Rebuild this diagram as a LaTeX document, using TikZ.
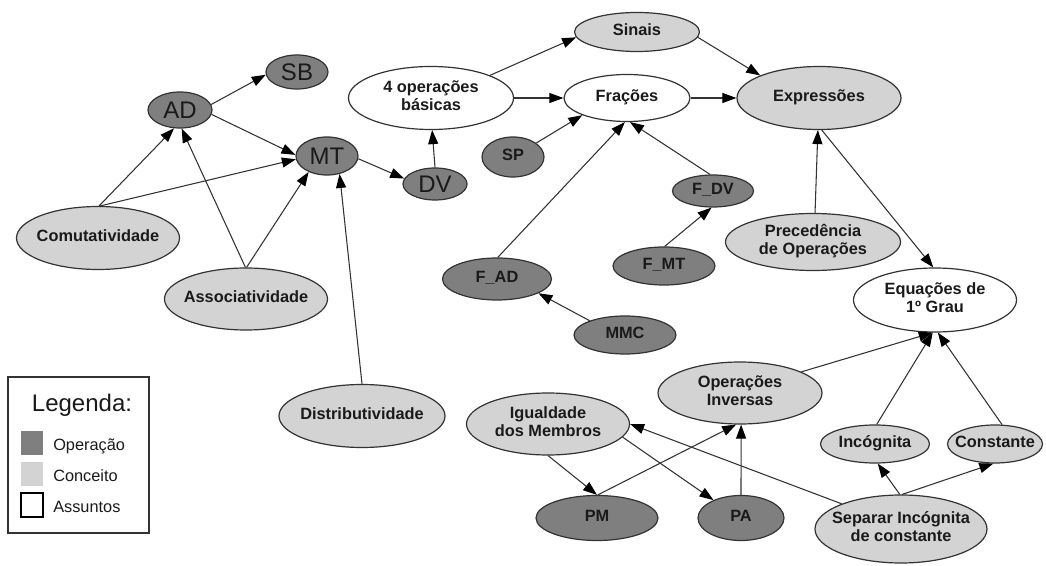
\documentclass[tikz,border=0pt]{standalone}
\usepackage{fontspec}
\setmainfont{Liberation Sans}
\usetikzlibrary{shapes.geometric,arrows.meta}

\definecolor{opfill}{HTML}{7F7F7F}
\definecolor{cofill}{HTML}{D3D3D3}
\definecolor{rim}{HTML}{333333}
\definecolor{ink}{HTML}{1A1A1A}

% centred text of zero width, so the ellipse keeps the size it is given
\newcommand\elltext[1]{\makebox[0pt]{\begin{tabular}{@{}c@{}}#1\end{tabular}}}

\tikzset{
  base/.style={ellipse, draw=rim, line width=0.9pt, inner sep=0pt, text=ink},
  sz/.style 2 args={minimum width=#1*0.75pt, minimum height=#2*0.75pt},
  oper/.style={base, fill=opfill, font=\fontsize{12.25}{13.5}\selectfont\bfseries},
  opbig/.style={base, fill=opfill, font=\fontsize{18}{20}\selectfont},
  conc/.style={base, fill=cofill, font=\fontsize{12.25}{13.5}\selectfont\bfseries},
  subj/.style={base, fill=white, font=\fontsize{12.25}{13.5}\selectfont\bfseries},
  link/.style={draw=rim, line width=0.8pt,
    -{Triangle[length=10.5pt,width=7.5pt,color=black]}},
  swatch/.style={inner sep=0pt, minimum width=22*0.75pt, minimum height=24*0.75pt},
  legtext/.style={anchor=west, inner sep=0pt, text=ink, font=\fontsize{12.25}{14}\selectfont},
}

\begin{document}
\begin{tikzpicture}[x=0.75pt,y=-0.75pt]
\useasboundingbox (0,0) rectangle (1046,566);
\fill[white] (0,0) rectangle (1046,566);

% operations (left cluster)
\node[opbig, sz={62}{34}] (sb) at (297,72) {SB};
\node[opbig, sz={64}{36}] (ad) at (180,110) {AD};
\node[opbig, sz={62}{38}] (mt) at (327,156) {MT};
\node[opbig, sz={64}{32}] (dv) at (435,184) {DV};

% properties
\node[conc, sz={163}{63}] (comut) at (98,238) {\elltext{Comutatividade}};
\node[conc, sz={163}{62}] (assoc) at (246,299) {\elltext{Associatividade}};
\node[conc, sz={166}{63}] (distr) at (362,416) {\elltext{Distributividade}};

% top row
\node[subj, sz={165}{63}] (quatro) at (431,98) {\elltext{4 operações\\básicas}};
\node[conc, sz={125}{39}] (sinais) at (637,32) {\elltext{Sinais}};
\node[subj, sz={126}{47}] (fracoes) at (627,98) {\elltext{Frações}};
\node[conc, sz={164}{63}] (expr) at (819,98) {\elltext{Expressões}};

% fractions
\node[oper, sz={62}{40}] (sp) at (513,157) {\elltext{SP}};
\node[oper, sz={81}{32}] (fdv) at (713,191) {\elltext{F\_DV}};
\node[oper, sz={102}{38}] (fmt) at (664,266) {\elltext{F\_MT}};
\node[oper, sz={109}{42}] (fad) at (497,279) {\elltext{F\_AD}};
\node[oper, sz={102}{38}] (mmc) at (625,335) {\elltext{MMC}};

% equations
\node[conc, sz={175}{57}] (prec) at (813,242) {\elltext{Precedência\\de Operações}};
\node[subj, sz={163}{64}] (equa) at (935,300) {\elltext{Equações de\\1º Grau}};
\node[conc, sz={164}{62}] (opinv) at (740,393) {\elltext{Operações\\Inversas}};
\node[conc, sz={163}{62}] (igual) at (548,424) {\elltext{Igualdade\\dos Membros}};
\node[oper, sz={122}{45}] (pm) at (597,518) {\elltext{PM}};
\node[oper, sz={86}{45}] (pa) at (741,518) {\elltext{PA}};
\node[conc, sz={109}{38}] (incog) at (875,444) {\elltext{Incógnita}};
\node[conc, sz={95}{38}] (const) at (995,444) {\elltext{Constante}};
\node[conc, sz={172}{68}] (separ) at (901,529) {\elltext{Separar Incógnita\\de constante}};

% connectors
\draw[link] (ad.10) -- (sb.185);
\draw[link] (ad.-8) -- (mt.178);
\draw[link] (comut.88) -- (ad.252);
\draw[link] (comut.86) -- (mt.186);
\draw[link] (assoc.91) -- (ad.275);
\draw[link] (assoc.89) -- (mt.221);
\draw[link] (distr.90) -- (mt.-55);
\draw[link] (mt.-5) -- (dv.170);
\draw[link] (dv.90) -- (quatro.272);
\draw[link] (quatro.21) -- (sinais.185);
\draw[link] (quatro.east) -- (fracoes.west);
\draw[link] (sinais.-5) -- (expr.159);
\draw[link] (fracoes.east) -- (expr.west);
\draw[link] (sp.31) -- (fracoes.201);
\draw[link] (fad.88) -- (fracoes.265);
\draw[link] (fdv.100) -- (fracoes.277);
\draw[link] (fmt.88) -- (fdv.265);
\draw[link] (mmc.158) -- (fad.341);
\draw[link] (prec.86) -- (expr.268);
\draw[link] (expr.-85) -- (equa.93);
\draw[link] (opinv.19) -- (equa.266);
\draw[link] (incog.85) -- (equa.266);
\draw[link] (const.70) -- (equa.275);
\draw[link] (separ.92) -- (incog.278);
\draw[link] (separ.88) -- (const.265);
\draw[link] (separ.157) -- (igual.0);
\draw[link] (igual.270) -- (pm.90);
\draw[link] (igual.-10) -- (pa.147);
\draw[link] (pm.88) -- (opinv.263);
\draw[link] (pa.90) -- (opinv.272);

% legend
\node[draw=rim, line width=0.9pt, inner sep=0pt,
      minimum width=141*0.75pt, minimum height=156*0.75pt] (legend) at (78.5,455) {};
\node[text=ink, inner sep=0pt, font=\fontsize{18}{20}\selectfont] (legtitle) at (82,405) {Legenda:};
\node[swatch, fill=opfill] (swop) at (32,443) {};
\node[swatch, fill=cofill] (swco) at (32,474) {};
\node[swatch, draw=black, line width=0.8pt, fill=white] (swas) at (32,505) {};
\node[legtext] (txop) at (53,446) {Operação};
\node[legtext] (txco) at (53,476) {Conceito};
\node[legtext] (txas) at (53,507) {Assuntos};
\end{tikzpicture}
\end{document}
